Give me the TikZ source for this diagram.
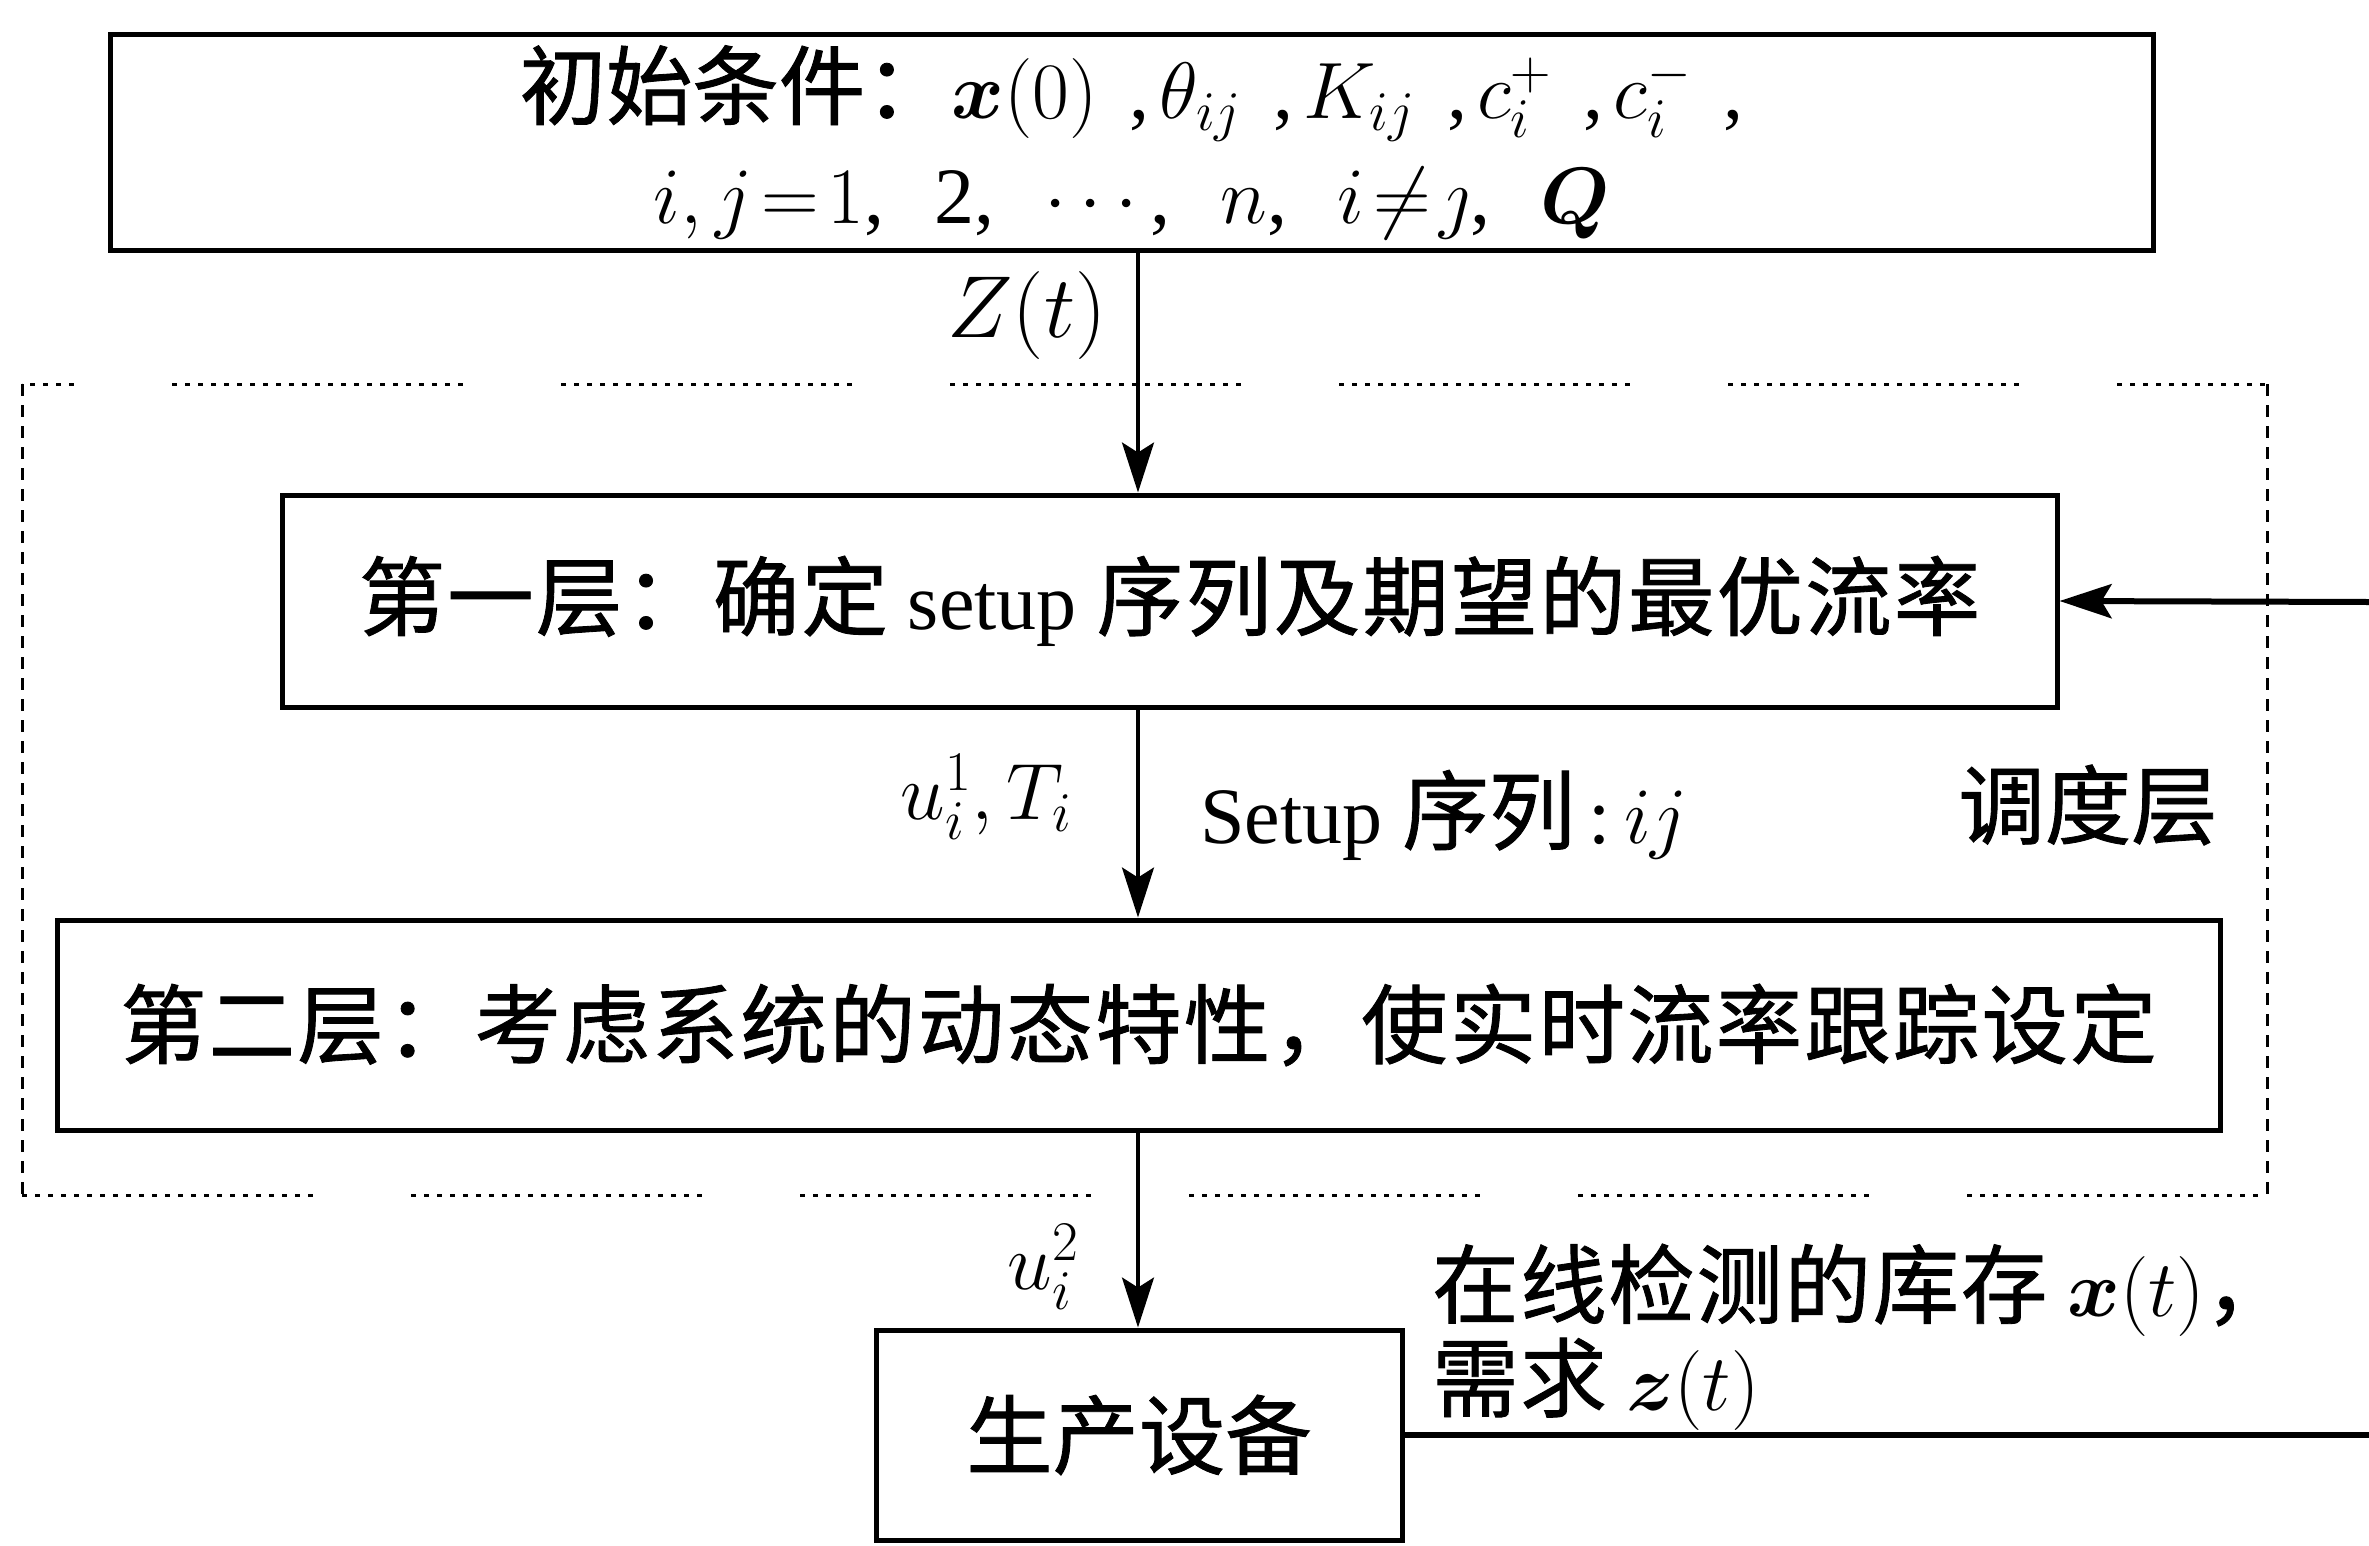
\RequirePackage{fix-cm}
\documentclass[tikz,border=0pt]{standalone}
\usepackage{amsmath}
\usepackage{fontspec}
\setmainfont{Liberation Serif}
\newfontfamily\cjk{Noto Sans CJK SC}[Scale=1.08, FakeBold=1]
\usetikzlibrary{arrows.meta}
\tikzset{
  box/.style={draw, line width=5pt, rectangle, inner sep=0pt, align=center},
  arr/.style={line width=3.5pt, -{Stealth[length=50pt,width=32pt,inset=10pt]}},
  fbarr/.style={line width=6pt, -{Stealth[length=52pt,width=34pt,inset=10pt]}},
  fbline/.style={line width=5.5pt},
  lab/.style={inner sep=0pt},
  hdots/.style={line width=3pt, dash pattern=on 5pt off 8pt on 5pt off 8pt on 5pt off 8pt on 5pt off 8pt on 5pt off 8pt on 5pt off 8pt on 5pt off 8pt on 5pt off 8pt on 5pt off 8pt on 5pt off 8pt on 5pt off 8pt on 5pt off 8pt on 5pt off 8pt on 5pt off 8pt on 5pt off 8pt on 5pt off 8pt on 5pt off 8pt on 5pt off 8pt on 5pt off 8pt on 5pt off 8pt on 5pt off 8pt on 5pt off 8pt on 5pt off 98pt},
  vdash/.style={line width=3pt, dash pattern=on 12pt off 9pt},
}
\newcommand\cs{\hspace{32pt}}
\newcommand\ca{\hspace{10pt}}
\newcommand\ds{\hspace{50pt}}
\begin{document}
\begin{tikzpicture}[x=1pt,y=-1pt, every node/.style={font=\fontsize{80}{105}\selectfont}]
\useasboundingbox (0,0) rectangle (2369,1545);

% dotted frame of the scheduling layer
\coordinate (fnw) at (22,384);
\coordinate (fse) at (2267,1195);
\draw[hdots, dash phase=-150pt] (fnw) -- (fnw -| fse);
\draw[hdots] (fnw |- fse) -- (fse);
\draw[vdash] (fnw) -- (fnw |- fse);
\draw[vdash] (fnw -| fse) -- (fse);

% boxes
\node[box, minimum width=2043pt, minimum height=216pt] (top) at (1131.5,142)
  {{\cjk 初始条件：}$\boldsymbol{x}(0)$\cs,\ca$\theta_{ij}$\cs,\ca$K_{ij}$\cs,\ca$c_i^+$\cs,\ca$c_i^-$\cs,\\
   $i,j\!=\!1$,\ds 2,\ds $\cdots$,\ds $n$,\ds $i\!\neq\!\jmath$,\ds $\boldsymbol{Q}$};
\node[box, minimum width=1775pt, minimum height=212pt] (l1) at (1169.5,601)
  {{\cjk\addfontfeature{LetterSpace=2.5}第一层：确定} setup {\cjk\addfontfeature{LetterSpace=2.5}序列及期望的最优流率}};
\node[box, minimum width=2163pt, minimum height=210pt] (l2) at (1138.5,1025)
  {{\cjk\addfontfeature{LetterSpace=2.6}第二层：考虑系统的动态特性，使实时流率跟踪设定}};
\node[box, minimum width=526pt, minimum height=210pt] (dev) at (1139,1435)
  {{\cjk 生产设备}};

% vertical arrows
\coordinate (ax) at (1138,0);
\draw[arr] (top.south -| ax) -- (l1.north -| ax);
\draw[arr] (l1.south -| ax) -- (l2.north -| ax);
\draw[arr] (l2.south -| ax) -- (dev.north -| ax);

% feedback lines
\coordinate (fbin) at (2369,602);
\coordinate (fbout) at (2369,1435);
\draw[fbarr] (fbin) -- (l1.east);
\draw[fbline] (dev.east) -- (fbout);

% labels
\node[lab, font=\fontsize{88}{105}\selectfont] (zt) at (1027,315) {$Z(t)$};
\node[lab] (u1) at (986,797) {$u_i^1,T_i$};
\node[lab, anchor=base west] (seq) at (1200,843) {Setup {\cjk 序列}\,:\,$ij$};
\node[lab] (sched) at (2088,805) {{\cjk 调度层}};
\node[lab] (u2) at (1043,1267) {$u_i^2$};
\node[lab, anchor=west, align=left, font=\fontsize{80}{88}\selectfont] (meas) at (1432,1337)
  {{\cjk\addfontfeature{LetterSpace=2}在线检测的库存} $\boldsymbol{x}(t)${\cjk ，}\\{\cjk\addfontfeature{LetterSpace=2}需求} $\boldsymbol{z}(t)$};
\end{tikzpicture}
\end{document}
